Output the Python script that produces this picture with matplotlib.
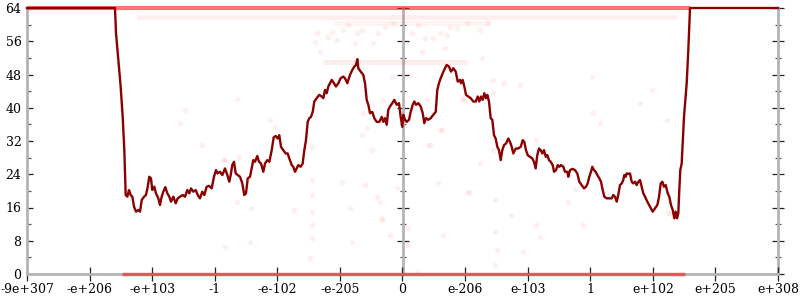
import numpy as np
import matplotlib.pyplot as plt
from matplotlib.ticker import FixedLocator

plt.rcParams['font.family'] = 'DejaVu Serif'

# x axis: ordinal position of the float input, labelled with the float value
tick_pos = list(range(13))
tick_labels = ["-9e+307", "-e+206", "-e+103", "-1", "-e-102", "-e-205", "0",
               "e-206", "e-103", "1", "e+102", "e+205", "e+308"]
y_major = list(range(0, 65, 8))
y_minor = list(range(4, 64, 8))

# averaged bits of error along the input range
err_x = [0.000, 1.406, 1.422, 1.459, 1.497, 1.529, 1.555, 1.577, 1.603, 1.630,
         1.657, 1.683, 1.710, 1.742, 1.778, 1.806, 1.833, 1.870, 1.901, 1.929,
         1.954, 1.981, 2.002, 2.034, 2.061, 2.098, 2.125, 2.152, 2.178, 2.210,
         2.242, 2.274, 2.301, 2.338, 2.376, 2.408, 2.445, 2.488, 2.525, 2.561,
         2.593, 2.621, 2.657, 2.696, 2.728, 2.764, 2.801, 2.833, 2.871, 2.908,
         2.951, 2.988, 3.020, 3.047, 3.084, 3.121, 3.164, 3.201, 3.232, 3.255,
         3.280, 3.308, 3.335, 3.367, 3.404, 3.440, 3.472, 3.499, 3.527, 3.563,
         3.590, 3.616, 3.643, 3.680, 3.707, 3.739, 3.776, 3.803, 3.840, 3.872,
         3.910, 3.942, 3.974, 4.006, 4.031, 4.059, 4.095, 4.134, 4.166, 4.191,
         4.230, 4.255, 4.282, 4.309, 4.335, 4.373, 4.405, 4.431, 4.458, 4.485,
         4.511, 4.538, 4.565, 4.591, 4.629, 4.671, 4.709, 4.735, 4.762, 4.789,
         4.814, 4.842, 4.869, 4.905, 4.937, 4.974, 5.012, 5.054, 5.081, 5.118,
         5.161, 5.198, 5.230, 5.257, 5.278, 5.294, 5.332, 5.374, 5.401, 5.428,
         5.454, 5.481, 5.518, 5.549, 5.588, 5.629, 5.668, 5.693, 5.720, 5.748,
         5.773, 5.800, 5.837, 5.869, 5.907, 5.944, 5.971, 5.997, 6.013, 6.040,
         6.067, 6.104, 6.131, 6.163, 6.189, 6.216, 6.253, 6.291, 6.323, 6.348,
         6.376, 6.412, 6.451, 6.492, 6.531, 6.556, 6.583, 6.610, 6.642, 6.679,
         6.706, 6.743, 6.775, 6.812, 6.850, 6.882, 6.919, 6.935, 6.962, 6.988,
         7.015, 7.051, 7.090, 7.131, 7.170, 7.202, 7.227, 7.254, 7.281, 7.307,
         7.334, 7.355, 7.382, 7.409, 7.435, 7.462, 7.489, 7.515, 7.542, 7.569,
         7.595, 7.622, 7.654, 7.691, 7.718, 7.745, 7.771, 7.809, 7.850, 7.889,
         7.921, 7.946, 7.973, 8.000, 8.037, 8.074, 8.101, 8.128, 8.154, 8.181,
         8.208, 8.234, 8.261, 8.288, 8.314, 8.341, 8.368, 8.400, 8.421, 8.453,
         8.480, 8.505, 8.533, 8.570, 8.597, 8.633, 8.649, 8.677, 8.716, 8.756,
         8.793, 8.825, 8.863, 8.900, 8.932, 8.959, 8.985, 9.012, 9.033, 9.060,
         9.087, 9.113, 9.145, 9.172, 9.199, 9.225, 9.263, 9.304, 9.343, 9.368,
         9.395, 9.423, 9.448, 9.475, 9.503, 9.528, 9.544, 9.566, 9.582, 9.608,
         9.635, 9.662, 9.688, 9.715, 9.742, 9.768, 9.795, 9.822, 9.848, 9.875,
         9.912, 9.955, 9.998, 10.035, 10.072, 10.099, 10.126, 10.152, 10.178, 10.206,
         10.238, 10.263, 10.290, 10.318, 10.343, 10.365, 10.386, 10.407, 10.423, 10.439,
         10.461, 10.477, 10.498, 10.519, 10.541, 10.567, 10.594, 12.000]
err_y = [64.0, 64.0, 58.0, 51.5, 45.0, 37.8, 29.8, 19.0, 18.6, 20.2,
         19.0, 18.6, 16.2, 15.0, 15.4, 15.0, 17.8, 18.6, 19.0, 21.0,
         23.4, 23.0, 20.2, 21.0, 19.4, 18.2, 16.6, 18.6, 19.8, 20.9,
         19.4, 18.6, 17.4, 18.6, 17.0, 18.2, 18.6, 19.0, 18.6, 20.2,
         19.4, 20.6, 19.8, 20.2, 19.0, 18.2, 19.8, 19.0, 21.0, 21.2,
         20.6, 23.4, 25.0, 24.2, 24.6, 23.8, 25.4, 23.8, 22.2, 23.8,
         26.2, 27.0, 24.2, 23.8, 23.4, 21.8, 19.0, 19.4, 23.0, 23.4,
         25.4, 27.4, 27.0, 28.4, 27.0, 26.6, 24.6, 26.6, 27.4, 27.0,
         29.8, 32.9, 33.2, 32.6, 33.4, 30.6, 29.8, 29.0, 29.0, 27.8,
         26.2, 25.8, 24.6, 25.4, 26.2, 25.8, 26.6, 29.8, 32.2, 36.6,
         37.5, 37.8, 39.0, 41.5, 42.3, 43.1, 42.7, 42.3, 44.3, 43.5,
         45.1, 45.9, 46.7, 45.9, 45.1, 45.9, 47.1, 47.5, 47.1, 45.9,
         47.9, 49.1, 49.9, 50.3, 51.7, 49.5, 48.7, 47.9, 45.9, 41.9,
         40.7, 38.7, 39.0, 37.5, 36.6, 36.6, 37.8, 36.6, 37.5, 35.9,
         39.5, 40.3, 41.1, 41.9, 40.7, 41.1, 37.8, 35.4, 38.3, 37.1,
         36.6, 37.1, 39.0, 40.7, 41.5, 40.7, 41.1, 40.3, 38.7, 36.3,
         37.5, 37.1, 37.5, 38.3, 39.0, 44.3, 45.9, 47.1, 48.3, 49.5,
         50.3, 49.9, 48.7, 49.5, 48.7, 46.3, 46.7, 45.9, 46.7, 45.1,
         43.1, 42.7, 42.3, 41.5, 41.5, 42.7, 41.5, 42.7, 41.9, 43.5,
         42.3, 43.1, 41.5, 37.5, 37.1, 33.4, 32.6, 30.6, 29.8, 27.4,
         29.8, 31.0, 31.4, 32.6, 31.8, 30.6, 29.0, 30.2, 30.2, 30.6,
         32.2, 31.8, 29.8, 28.6, 28.2, 27.8, 27.0, 25.4, 28.6, 30.2,
         29.8, 29.0, 29.8, 28.2, 28.6, 27.4, 27.0, 26.2, 24.6, 25.0,
         26.2, 25.8, 26.2, 25.8, 24.6, 24.6, 23.4, 25.0, 25.3, 25.0,
         24.2, 22.2, 21.4, 20.6, 21.0, 21.8, 23.4, 24.6, 25.8, 25.0,
         24.6, 23.8, 23.0, 22.2, 20.2, 18.6, 18.2, 18.2, 18.2, 19.0,
         18.6, 17.4, 19.0, 21.4, 21.8, 22.6, 23.8, 23.4, 24.2, 24.1,
         24.2, 22.2, 21.8, 22.2, 21.4, 22.2, 22.6, 21.0, 19.4, 18.6,
         17.4, 16.2, 15.0, 15.8, 16.6, 18.6, 21.8, 22.2, 21.0, 21.4,
         19.4, 18.6, 16.6, 15.4, 13.4, 15.0, 13.4, 14.6, 20.2, 25.0,
         26.6, 31.4, 37.8, 41.9, 45.9, 53.9, 64.0, 64.0]

# dense rows of sampled points: x start, x end, bits of error
row_start = [0.00, 1.52, 1.76, 4.90, 4.73]
row_end = [10.60, 10.51, 10.39, 7.40, 7.03]
row_bits = [64.0, 0.0, 61.8, 60.3, 51.0]

# isolated sampled points
pts_x = [2.52, 2.44, 2.79, 3.14, 3.36, 3.88, 3.96, 4.56, 4.55, 4.56,
         4.55, 4.55, 4.55, 4.52, 3.38, 3.36, 3.58, 4.26, 5.03, 3.15,
         3.16, 3.56, 5.16, 5.19, 5.40, 5.64, 5.67, 5.80, 6.09, 6.09,
         6.23, 6.56, 6.64, 7.05, 7.24, 7.48, 7.48, 7.51, 7.48, 7.74,
         8.14, 8.20, 7.93, 8.65, 8.76, 8.89, 10.25, 5.35, 5.43, 5.51,
         6.41, 6.60, 5.59, 5.91, 5.67, 6.12, 5.69, 7.44, 7.62, 7.88,
         7.44, 6.96, 7.45, 8.14, 7.06, 9.02, 9.98, 9.80, 9.05, 9.16,
         10.22, 10.27, 4.63, 4.60, 4.68, 4.81, 4.87, 4.95, 5.05, 5.13,
         5.27, 5.35, 5.53, 5.61, 5.72, 5.85, 5.83, 5.24, 5.37, 6.15,
         6.25, 6.36, 6.49, 6.60, 6.71, 6.68, 6.31, 6.76, 6.87, 7.03,
         7.24, 7.37, 7.27, 6.44, 6.63, 6.97, 6.39]
pts_y = [39.5, 36.3, 31.0, 27.4, 42.1, 37.1, 35.4, 30.6, 22.6, 19.0,
         15.0, 11.8, 8.7, 3.8, 28.2, 17.4, 15.8, 15.4, 22.2, 27.4,
         6.6, 7.8, 15.8, 7.8, 21.4, 17.4, 13.0, 9.4, 11.0, 7.0,
         0.6, 21.8, 9.4, 19.8, 26.8, 17.8, 10.2, 5.8, 2.2, 14.2,
         11.8, 9.0, 5.4, 17.4, 20.4, 11.8, 14.6, 33.4, 35.1, 29.8,
         31.0, 34.6, 18.6, 20.6, 13.4, 47.9, 41.9, 46.7, 46.0, 45.5,
         43.5, 41.9, 29.8, 32.2, 19.6, 47.5, 44.3, 41.2, 38.8, 36.3,
         37.1, 14.6, 57.9, 55.9, 53.5, 57.1, 58.3, 56.3, 58.7, 59.9,
         57.9, 58.7, 55.5, 57.9, 59.5, 60.3, 47.5, 55.5, 38.7, 57.9,
         59.9, 56.7, 56.7, 57.9, 57.5, 54.3, 53.5, 59.5, 59.1, 60.3,
         58.7, 60.3, 51.9, 31.0, 34.6, 42.3, 41.9]

fig = plt.figure(figsize=(8, 3), dpi=100)
ax = fig.add_axes([27 / 800, 26 / 300, 751 / 800, 266 / 300])

# rows of points
row_alpha = [0.6, 0.6, 0.07, 0.05, 0.08]
row_lw = [3.0, 2.5, 3.5, 3.5, 3.5]
for x0, x1, b, a, w in zip(row_start, row_end, row_bits, row_alpha, row_lw):
    ax.plot([x0, x1], [b, b], color='#ff1a1a', alpha=a, lw=w,
            solid_capstyle='butt', clip_on=False, zorder=3)

ax.scatter(pts_x, pts_y, s=16, color='red', alpha=0.06, lw=0, zorder=2)

ax.plot(err_x, err_y, color='#8b0000', lw=1.7, clip_on=False, zorder=4)

ax.set_xlim(0, 12)
ax.set_ylim(0, 64)

ax.set_xticks(tick_pos)
ax.set_xticklabels(tick_labels)
ax.set_yticks(y_major)
ax.yaxis.set_minor_locator(FixedLocator(y_minor))

grey = '#b4b4b4'
for s in ['top', 'right']:
    ax.spines[s].set_visible(False)
for s in ['left', 'bottom']:
    ax.spines[s].set_color(grey)
    ax.spines[s].set_linewidth(2)

ax.tick_params(axis='x', direction='inout', length=9.5, width=0.9,
               color='#222222', labelsize=9, pad=1.5)
ax.tick_params(axis='y', which='major', direction='in', length=4.5, width=0.9,
               color='#222222', labelsize=9, pad=4)
ax.tick_params(axis='y', which='minor', direction='in', length=3, width=0.9,
               color='#555555')

# vertical axes at 0 and at the right edge
for loc in [0.5, 'right']:
    sec = ax.secondary_yaxis(loc)
    sec.set_yticks(y_major)
    sec.yaxis.set_minor_locator(FixedLocator(y_minor))
    sec.tick_params(which='major', direction='inout', length=8, width=0.9,
                    color='#222222', labelleft=False, labelright=False)
    sec.tick_params(which='minor', direction='inout', length=4.5, width=0.9,
                    color='#555555')
    for sp in sec.spines.values():
        sp.set_color(grey)
        sp.set_linewidth(2)

fig.savefig('out.png', dpi=100)
